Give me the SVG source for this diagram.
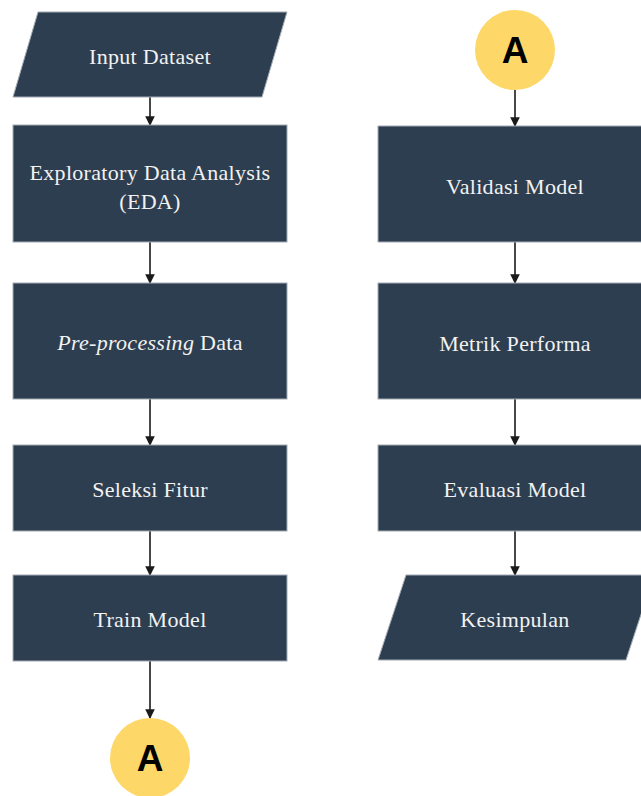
<svg xmlns="http://www.w3.org/2000/svg" width="641" height="796" viewBox="0 0 641 796">
<defs>
<style>
.box{fill:#2d3e50;stroke:#a3abb3;stroke-width:1}
.lbl{font-family:"Liberation Serif","Times New Roman",serif;font-size:22px;letter-spacing:0.3px;fill:#f2f2f2;text-anchor:middle}
.con{fill:#fdd768}
.clbl{font-family:"Liberation Sans",Arial,sans-serif;font-size:37px;font-weight:bold;fill:#000;text-anchor:middle}
.edge{stroke:#1a1a1a;stroke-width:1.6;fill:none;marker-end:url(#arr)}
</style>
<marker id="arr" viewBox="0 0 10 10" refX="9" refY="5" markerWidth="6" markerHeight="6" markerUnits="strokeWidth" orient="auto">
<path d="M0,0 L10,5 L0,10 z" fill="#1a1a1a"/>
</marker>
</defs>
<rect width="641" height="796" fill="#ffffff"/>
<g id="connectors">
<line class="edge" x1="150" y1="97" x2="150" y2="125"/>
<line class="edge" x1="150" y1="242" x2="150" y2="283"/>
<line class="edge" x1="150" y1="399" x2="150" y2="445"/>
<line class="edge" x1="150" y1="531" x2="150" y2="575"/>
<line class="edge" x1="150" y1="661" x2="150" y2="718"/>
<line class="edge" x1="515" y1="90" x2="515" y2="126"/>
<line class="edge" x1="515" y1="242" x2="515" y2="283"/>
<line class="edge" x1="515" y1="399" x2="515" y2="445"/>
<line class="edge" x1="515" y1="531" x2="515" y2="575"/>
</g>
<g id="input-dataset">
<polygon class="box" points="38,12 287,12 262,97 13,97"/>
<text class="lbl" x="150" y="64">Input Dataset</text>
</g>
<g id="eda">
<rect class="box" x="13" y="125" width="274" height="117"/>
<text class="lbl" x="150" y="180">Exploratory Data Analysis</text>
<text class="lbl" x="150" y="209">(EDA)</text>
</g>
<g id="preprocessing">
<rect class="box" x="13" y="283" width="274" height="116"/>
<text class="lbl" x="150" y="350"><tspan font-style="italic">Pre-processing</tspan> Data</text>
</g>
<g id="seleksi-fitur">
<rect class="box" x="13" y="445" width="274" height="86"/>
<text class="lbl" x="150" y="497">Seleksi Fitur</text>
</g>
<g id="train-model">
<rect class="box" x="13" y="575" width="274" height="86"/>
<text class="lbl" x="150" y="627">Train Model</text>
</g>
<g id="connector-a-bottom">
<circle class="con" cx="150" cy="758" r="40"/>
<text class="clbl" x="150" y="771">A</text>
</g>
<g id="connector-a-top">
<circle class="con" cx="515" cy="50" r="40"/>
<text class="clbl" x="515" y="63">A</text>
</g>
<g id="validasi-model">
<rect class="box" x="378" y="126" width="274" height="116"/>
<text class="lbl" x="515" y="194">Validasi Model</text>
</g>
<g id="metrik-performa">
<rect class="box" x="378" y="283" width="274" height="116"/>
<text class="lbl" x="515" y="351">Metrik Performa</text>
</g>
<g id="evaluasi-model">
<rect class="box" x="378" y="445" width="274" height="86"/>
<text class="lbl" x="515" y="497">Evaluasi Model</text>
</g>
<g id="kesimpulan">
<polygon class="box" points="406,575 654,575 626,660 378,660"/>
<text class="lbl" x="515" y="627">Kesimpulan</text>
</g>
</svg>
